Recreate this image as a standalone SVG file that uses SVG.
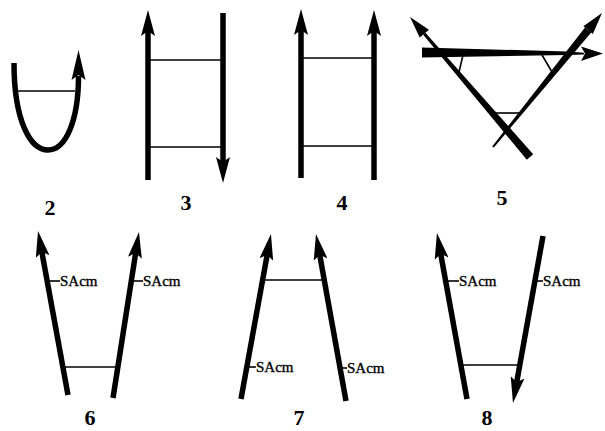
<svg xmlns="http://www.w3.org/2000/svg" width="605" height="431" viewBox="0 0 605 431">
<style>
.s{stroke:#000;stroke-width:5.5;fill:none;stroke-linecap:butt}
.t{stroke:#000;stroke-width:1.6;fill:none}
.f{fill:#000;stroke:none}
.num{font-family:"Liberation Serif",serif;font-weight:bold;font-size:22px;text-anchor:middle;fill:#000}
.lab{font-family:"Liberation Serif",serif;font-size:15px;fill:#000;stroke:#000;stroke-width:0.35}
</style>
<defs>
<marker id="ah" markerUnits="userSpaceOnUse" markerWidth="26" markerHeight="14" viewBox="0 0 26 14" refX="5" refY="7" orient="auto">
<path d="M0,0 L26,7 L0,14 L5,7 Z" fill="#000"/>
</marker>
</defs>
<rect width="605" height="431" fill="#fff"/>

<g id="fig2">
<path class="s" d="M14,63 C14,120 30,150 48,150 C66,150 78.5,120 78.5,76" stroke-width="6"/>
<polygon class="f" points="78.5,50 85.5,80 78.5,75 71.5,80"/>
<line class="t" x1="18" y1="91" x2="75" y2="91"/>
<text class="num" x="50" y="215">2</text>
</g>

<g id="fig3">
<line class="s" x1="148" y1="180" x2="148" y2="31" marker-end="url(#ah)"/>
<line class="s" x1="223" y1="13" x2="223" y2="162" marker-end="url(#ah)"/>
<line class="t" x1="148" y1="60" x2="221" y2="60"/>
<line class="t" x1="148" y1="147" x2="221" y2="147"/>
<text class="num" x="186" y="210">3</text>
</g>

<g id="fig4">
<line class="s" x1="301" y1="178" x2="301" y2="30" marker-end="url(#ah)"/>
<line class="s" x1="374" y1="180" x2="374" y2="31" marker-end="url(#ah)"/>
<line class="t" x1="301" y1="58" x2="374" y2="58"/>
<line class="t" x1="301" y1="146" x2="374" y2="146"/>
<text class="num" x="342" y="210">4</text>
</g>

<g id="fig5">
<polygon class="f" points="422,47.5 567,51.5 584,52.8 584,54.6 567,55 422,57.5"/>
<polygon class="f" points="603,53.5 581,46.5 585,53.6 581,61"/>
<polygon class="f" points="533.2,154.2 526.8,159.8 423.2,34.7 425.4,32.7"/>
<polygon class="f" points="410,17 428.9,29.8 424.3,33.7 419.7,37.6"/>
<polygon class="f" points="493.8,147.6 492.2,146.4 585,27.6 591.2,32.6"/>
<polygon class="f" points="602,13 592.8,33.9 588.1,30.1 583.4,26.3"/>
<line class="t" x1="463" y1="55" x2="459" y2="72"/>
<line class="t" x1="542" y1="55" x2="552" y2="72"/>
<line class="t" x1="492" y1="113" x2="521" y2="113"/>
<text class="num" x="502" y="205">5</text>
</g>

<g id="fig6">
<line class="s" x1="68" y1="395" x2="41.8" y2="251.7" stroke-width="5" marker-end="url(#ah)"/>
<line class="s" x1="113" y1="398" x2="135.7" y2="252.8" stroke-width="5" marker-end="url(#ah)"/>
<line class="t" x1="63" y1="367" x2="118" y2="367"/>
<line class="t" x1="48" y1="281" x2="60" y2="281"/>
<text class="lab" x="60" y="286">SAcm</text>
<line class="t" x1="132" y1="281" x2="143" y2="281"/>
<text class="lab" x="143" y="286">SAcm</text>
<text class="num" x="90" y="425">6</text>
</g>

<g id="fig7">
<line class="s" x1="241" y1="399" x2="267.2" y2="254.7" stroke-width="5" marker-end="url(#ah)"/>
<line class="s" x1="346" y1="401" x2="319.7" y2="254.7" stroke-width="5" marker-end="url(#ah)"/>
<line class="t" x1="263" y1="280" x2="324" y2="280"/>
<line class="t" x1="248" y1="367" x2="256" y2="367"/>
<text class="lab" x="256" y="372">SAcm</text>
<line class="t" x1="341" y1="368" x2="347" y2="368"/>
<text class="lab" x="347" y="373">SAcm</text>
<text class="num" x="299" y="425">7</text>
</g>

<g id="fig8">
<line class="s" x1="467" y1="399" x2="440.7" y2="253.7" stroke-width="5" marker-end="url(#ah)"/>
<line class="s" x1="543" y1="236" x2="516.7" y2="382.3" stroke-width="5" marker-end="url(#ah)"/>
<line class="t" x1="461" y1="365" x2="520" y2="365"/>
<line class="t" x1="447" y1="281" x2="459" y2="281"/>
<text class="lab" x="459" y="286">SAcm</text>
<line class="t" x1="536" y1="281" x2="543" y2="281"/>
<text class="lab" x="543" y="286">SAcm</text>
<text class="num" x="487" y="425">8</text>
</g>
</svg>
